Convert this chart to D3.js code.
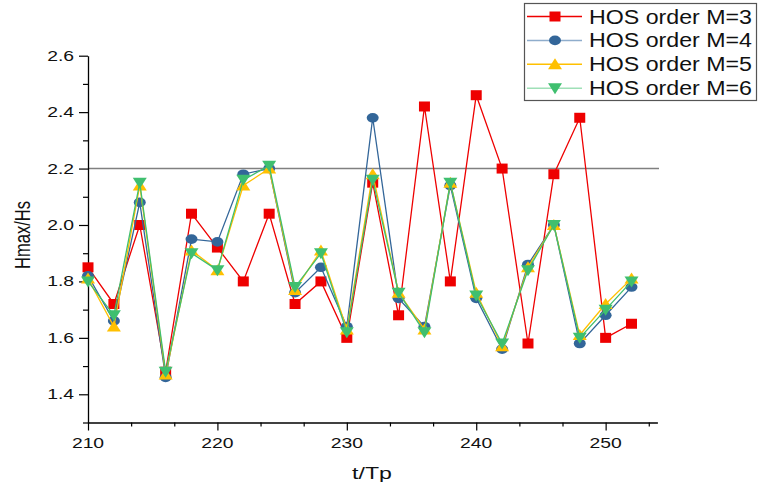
<!DOCTYPE html>
<html>
<head>
<meta charset="utf-8">
<script src="https://cdn.jsdelivr.net/npm/d3@7/dist/d3.min.js"></script>
<style>
  html, body { margin: 0; padding: 0; background: #fff; }
  svg { display: block; font-family: "Liberation Sans", Arial, sans-serif; }
</style>
</head>
<body>
<svg id="chart" width="758" height="484"></svg>
<script>
// ---- data ----
const tValues = [210, 212, 214, 216, 218, 220, 222, 224, 226, 228, 230, 232, 234, 236, 238, 240, 242, 244, 246, 248, 250, 252];
const seriesNames = ["HOS order M=3", "HOS order M=4", "HOS order M=5", "HOS order M=6"];
const m3 = [1.85, 1.72, 2.00, 1.48, 2.04, 1.92, 1.80, 2.04, 1.72, 1.80, 1.60, 2.15, 1.68, 2.42, 1.80, 2.46, 2.20, 1.58, 2.18, 2.38, 1.60, 1.65];
const m4 = [1.82, 1.66, 2.08, 1.46, 1.95, 1.94, 2.18, 2.20, 1.76, 1.85, 1.64, 2.38, 1.74, 1.64, 2.14, 1.74, 1.56, 1.86, 2.00, 1.58, 1.68, 1.78];
const m5 = [1.81, 1.64, 2.14, 1.47, 1.91, 1.84, 2.14, 2.20, 1.77, 1.91, 1.63, 2.18, 1.76, 1.63, 2.15, 1.76, 1.57, 1.85, 2.00, 1.61, 1.72, 1.81];
const m6 = [1.80, 1.68, 2.15, 1.48, 1.90, 1.84, 2.16, 2.21, 1.78, 1.90, 1.62, 2.16, 1.76, 1.62, 2.15, 1.75, 1.58, 1.84, 2.00, 1.60, 1.70, 1.80];
const xMajorTicks = [210, 220, 230, 240, 250];
const yMajorTicks = [1.4, 1.6, 1.8, 2.0, 2.2, 2.4, 2.6];
const refLevel = 2.2;
const xTitle = "t/Tp";
const yTitle = "Hmax/Hs";

// ---- styles ----
const colors = ["#ee0000", "#336699", "#ffc000", "#3fbf6f"];
const legendLineColors = ["#ee0000", "#8fadcc", "#ffc000", "#9fe0b7"];
const shapes = ["square", "circle", "tri-up", "tri-down"];
const allSeries = [m3, m4, m5, m6];

const svg = d3.select("#chart");
const x = d3.scaleLinear().domain([210, 254]).range([88, 657.4]);
const y = d3.scaleLinear().domain([1.3, 2.6]).range([422.5, 55.7]);

const SX = 1.38; // horizontal stretch of text in the reference

function markerPath(shape) {
  switch (shape) {
    case "square": return "M-5.5,-5L5.5,-5L5.5,5L-5.5,5Z";
    case "circle": return "M-6,0A6,4.8 0 1,0 6,0A6,4.8 0 1,0 -6,0Z";
    case "tri-up": return "M0,-6L7,5L-7,5Z";
    case "tri-down": return "M0,6L7,-5L-7,-5Z";
  }
}

// reference line at 2.2
svg.append("line")
  .attr("x1", x(210)).attr("x2", 659)
  .attr("y1", y(refLevel)).attr("y2", y(refLevel))
  .attr("stroke", "#808080").attr("stroke-width", 1.6);

// axes
const xAxisG = svg.append("g").attr("transform", `translate(0,${y(1.3)})`);
const xMinor = d3.range(210, 254, 10 / 3).filter(v => xMajorTicks.every(m => Math.abs(m - v) > 0.01));
xAxisG.append("g").call(d3.axisBottom(x).tickValues(xMinor).tickSize(4).tickFormat(""))
  .call(g => g.select(".domain").remove());
xAxisG.append("g").call(d3.axisBottom(x).tickValues(xMajorTicks).tickSize(8).tickSizeOuter(0).tickFormat(d3.format("d")))
  .call(g => g.select(".domain").attr("stroke-width", 1.3))
  .call(g => g.selectAll("text").remove());
xAxisG.selectAll(".tick line").attr("stroke-width", 1.2);

xMajorTicks.forEach(v => {
  svg.append("text")
    .attr("transform", `translate(${x(v)},447.5) scale(${SX},1)`)
    .attr("text-anchor", "middle")
    .attr("font-size", 14)
    .attr("fill", "#111")
    .text(d3.format("d")(v));
});

const yAxisG = svg.append("g").attr("transform", `translate(${x(210)},0)`);
const yMinor = d3.range(1.3, 2.61, 0.1).map(v => +v.toFixed(2)).filter(v => yMajorTicks.every(m => Math.abs(m - v) > 0.01));
yAxisG.append("g").call(d3.axisLeft(y).tickValues(yMinor).tickSize(5).tickFormat(""))
  .call(g => g.select(".domain").remove());
yAxisG.append("g").call(d3.axisLeft(y).tickValues(yMajorTicks).tickSize(9).tickSizeOuter(0).tickFormat(""))
  .call(g => g.select(".domain").attr("stroke-width", 1.3));
yAxisG.selectAll(".tick line").attr("stroke-width", 1.2);

yMajorTicks.forEach(v => {
  svg.append("text")
    .attr("transform", `translate(74,${y(v) + 5}) scale(${SX},1)`)
    .attr("text-anchor", "end")
    .attr("font-size", 14)
    .attr("fill", "#111")
    .text(d3.format(".1f")(v));
});

// axis titles
svg.append("text")
  .attr("transform", `translate(372,479) scale(1.4,1)`)
  .attr("text-anchor", "middle")
  .attr("font-size", 16.5)
  .attr("fill", "#111")
  .text(xTitle);
svg.append("text")
  .attr("transform", `translate(30,235) scale(${SX},1) rotate(-90)`)
  .attr("text-anchor", "middle")
  .attr("font-size", 16.5)
  .attr("fill", "#111")
  .text(yTitle);

// series
const line = d3.line().x((d, i) => x(tValues[i])).y(d => y(d));
allSeries.forEach((vals, k) => {
  const g = svg.append("g");
  g.append("path")
    .datum(vals)
    .attr("d", line)
    .attr("fill", "none")
    .attr("stroke", colors[k])
    .attr("stroke-width", 1.3);
  g.selectAll("path.mk")
    .data(vals)
    .join("path")
    .attr("class", "mk")
    .attr("d", markerPath(shapes[k]))
    .attr("transform", (d, i) => `translate(${x(tValues[i])},${y(d)})`)
    .attr("fill", colors[k]);
});

// legend
const legend = svg.append("g");
legend.append("rect")
  .attr("x", 524.5).attr("y", 3.5)
  .attr("width", 232).attr("height", 97)
  .attr("fill", "#fff")
  .attr("stroke", "#555").attr("stroke-width", 1.2);
seriesNames.forEach((name, k) => {
  const cy = 16.5 + k * 23.9;
  legend.append("line")
    .attr("x1", 527).attr("x2", 582)
    .attr("y1", cy).attr("y2", cy)
    .attr("stroke", legendLineColors[k]).attr("stroke-width", 1.5);
  legend.append("path")
    .attr("d", markerPath(shapes[k]))
    .attr("transform", `translate(555,${cy})`)
    .attr("fill", colors[k]);
  legend.append("text")
    .attr("transform", `translate(589,${cy + 7}) scale(1.16,1)`)
    .attr("font-size", 20)
    .attr("fill", "#111")
    .text(name);
});
</script>
</body>
</html>
